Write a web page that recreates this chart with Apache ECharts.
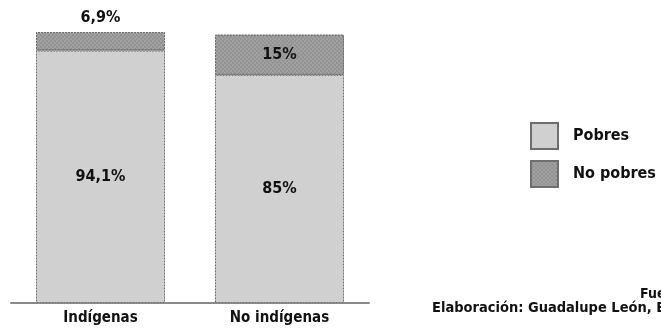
<!DOCTYPE html>
<html>
<head>
<meta charset="utf-8">
<script src="https://cdn.jsdelivr.net/npm/echarts@6/dist/echarts.min.js"></script>
<style>
  html, body { margin: 0; padding: 0; background: #fff; }
  #chart { width: 661px; height: 333px; }
</style>
</head>
<body>
<div id="chart"></div>
<script>
// Población por condición de pobreza (%)
const categories = ['Indígenas', 'No indígenas'];
const pobres = [94.1, 85];
const noPobres = [6.9, 15];
const seriesNames = ['Pobres', 'No pobres'];
const notaFuente = 'Fuente:';
const notaElaboracion = 'Elaboración: Guadalupe León, Ed';

const FONT = '"Liberation Sans Narrow", "DejaVu Sans Condensed", "Arial Narrow", sans-serif';
const fmt = v => String(v).replace('.', ',') + '%';

const chart = echarts.init(document.getElementById('chart'), null, { renderer: 'canvas' });

const borderStyle = {
  borderColor: '#6e6e6e',
  borderWidth: 1,
  borderType: [2, 1]
};

chart.setOption({
  animation: false,
  backgroundColor: '#ffffff',
  textStyle: { fontFamily: FONT },
  grid: { left: 11, right: 292, top: 32, bottom: 30, containLabel: false },
  xAxis: {
    type: 'category',
    data: categories,
    axisLine: { show: true, lineStyle: { color: '#8a8a8a', width: 2, type: [2, 1] } },
    axisTick: { show: false },
    axisLabel: {
      color: '#111',
      fontFamily: FONT,
      fontWeight: 'bold',
      fontSize: 15,
      margin: 8
    }
  },
  yAxis: {
    type: 'value',
    min: 0,
    max: 101,
    show: false,
    splitLine: { show: false }
  },
  legend: {
    orient: 'vertical',
    left: 530,
    top: 122,
    padding: 0,
    icon: 'rect',
    itemWidth: 27,
    itemHeight: 26,
    itemGap: 10,
    data: seriesNames,
    textStyle: { color: '#111', fontFamily: FONT, fontWeight: 'bold', fontSize: 16, padding: [0, 0, 0, 10] }
  },
  series: [
    {
      name: seriesNames[0],
      type: 'bar',
      stack: 'total',
      barWidth: 129,
      data: pobres,
      itemStyle: Object.assign({ color: '#d0d0d0' }, borderStyle),
      label: {
        show: true,
        position: 'inside',
        color: '#111',
        fontFamily: FONT,
        fontWeight: 'bold',
        fontSize: 16,
        formatter: p => fmt(p.value)
      }
    },
    {
      name: seriesNames[1],
      type: 'bar',
      stack: 'total',
      barWidth: 129,
      data: noPobres.map((v, i) => ({
        value: v,
        label: i === 0
          ? { position: 'top', distance: 6 }
          : { position: 'inside' }
      })),
      itemStyle: Object.assign({
        color: '#a0a0a0',
        decal: {
          symbol: 'rect',
          symbolSize: 0.6,
          color: 'rgba(85,85,85,0.55)',
          dashArrayX: [[2, 2], [0, 2, 2, 0]],
          dashArrayY: [2, 0]
        }
      }, borderStyle),
      label: {
        show: true,
        color: '#111',
        fontFamily: FONT,
        fontWeight: 'bold',
        fontSize: 16,
        formatter: p => fmt(p.value)
      }
    }
  ],
  graphic: [
    {
      type: 'text',
      left: 640,
      top: 287,
      style: { text: notaFuente, fill: '#111', font: 'bold 14px ' + FONT }
    },
    {
      type: 'text',
      left: 432,
      top: 301,
      style: { text: notaElaboracion, fill: '#111', font: 'bold 14.5px ' + FONT }
    }
  ]
});
</script>
</body>
</html>
